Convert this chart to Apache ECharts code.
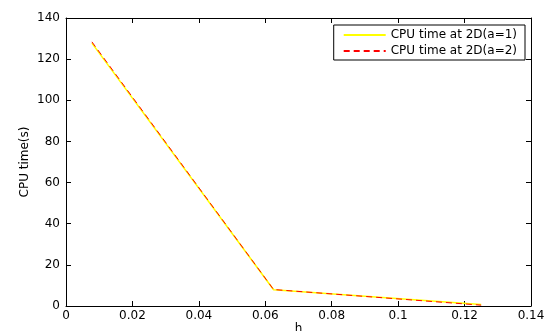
<!DOCTYPE html>
<html>
<head>
<meta charset="utf-8">
<script src="https://cdn.jsdelivr.net/npm/echarts@6/dist/echarts.min.js"></script>
<style>
  html, body { margin: 0; padding: 0; background: #fff; }
  #chart { width: 548px; height: 331px; }
</style>
</head>
<body>
<div id="chart"></div>
<script>
// h values and CPU times
const hA1 = [0.0078, 0.0625, 0.125];
const cpuA1 = [127.8, 7.9, 0.7];
const hA2 = [0.0078, 0.0625, 0.125];
const cpuA2 = [128.4, 8.0, 0.4];
const xTicks = [0, 0.02, 0.04, 0.06, 0.08, 0.1, 0.12, 0.14];
const yTicks = [0, 20, 40, 60, 80, 100, 120, 140];

const font = 'DejaVu Sans, sans-serif';
const chart = echarts.init(document.getElementById('chart'), null, { renderer: 'canvas' });

const pairs = (xs, ys) => xs.map((x, i) => [x, ys[i]]);

const boxAxis = {
  axisLine: { show: true, onZero: false, lineStyle: { color: '#000', width: 1 } },
  axisTick: { show: true, inside: true, length: 5, lineStyle: { color: '#000' } },
  splitLine: { show: false }
};

chart.setOption({
  animation: false,
  backgroundColor: '#fff',
  textStyle: { fontFamily: font },
  grid: { left: 66, right: 17, top: 18, bottom: 25, outerBoundsMode: 'none', containLabel: false },
  legend: {
    orient: 'vertical',
    right: 23,
    top: 25,
    itemWidth: 42,
    itemHeight: 12,
    itemGap: 4,
    padding: [4, 8, 3, 9],
    backgroundColor: '#fff',
    borderColor: '#000',
    borderWidth: 1,
    borderRadius: 0,
    itemStyle: { opacity: 0 },
    textStyle: { fontSize: 12, color: '#000', fontFamily: font },
    data: ['CPU time at 2D(a=1)', 'CPU time at 2D(a=2)']
  },
  xAxis: [
    Object.assign({
      type: 'value',
      min: xTicks[0],
      max: xTicks[xTicks.length - 1],
      interval: 0.02,
      name: 'h',
      nameLocation: 'middle',
      nameGap: 17,
      nameMoveOverlap: false,
      nameTextStyle: { fontSize: 12, color: '#000' },
      axisLabel: {
        fontSize: 12, color: '#000', margin: 4,
        formatter: v => String(+v.toFixed(2))
      }
    }, boxAxis),
    Object.assign({
      type: 'value', position: 'top',
      min: xTicks[0], max: xTicks[xTicks.length - 1], interval: 0.02,
      axisLabel: { show: false }
    }, boxAxis)
  ],
  yAxis: [
    Object.assign({
      type: 'value',
      min: yTicks[0],
      max: yTicks[yTicks.length - 1],
      interval: 20,
      name: 'CPU time(s)',
      nameLocation: 'middle',
      nameGap: 35,
      nameMoveOverlap: false,
      nameTextStyle: { fontSize: 12, color: '#000' },
      axisLabel: { fontSize: 12, color: '#000', margin: 6 }
    }, boxAxis),
    Object.assign({
      type: 'value', position: 'right',
      min: yTicks[0], max: yTicks[yTicks.length - 1], interval: 20,
      axisLabel: { show: false }
    }, boxAxis)
  ],
  series: [
    {
      name: 'CPU time at 2D(a=1)',
      type: 'line',
      symbol: 'none',
      data: pairs(hA1, cpuA1),
      lineStyle: { color: '#ffff00', width: 1.5, type: 'solid' },
      itemStyle: { color: '#ffff00' }
    },
    {
      name: 'CPU time at 2D(a=2)',
      type: 'line',
      symbol: 'none',
      data: pairs(hA2, cpuA2),
      lineStyle: { color: '#ff0000', width: 1, type: [6, 4] },
      itemStyle: { color: '#ff0000' }
    }
  ]
});
</script>
</body>
</html>
